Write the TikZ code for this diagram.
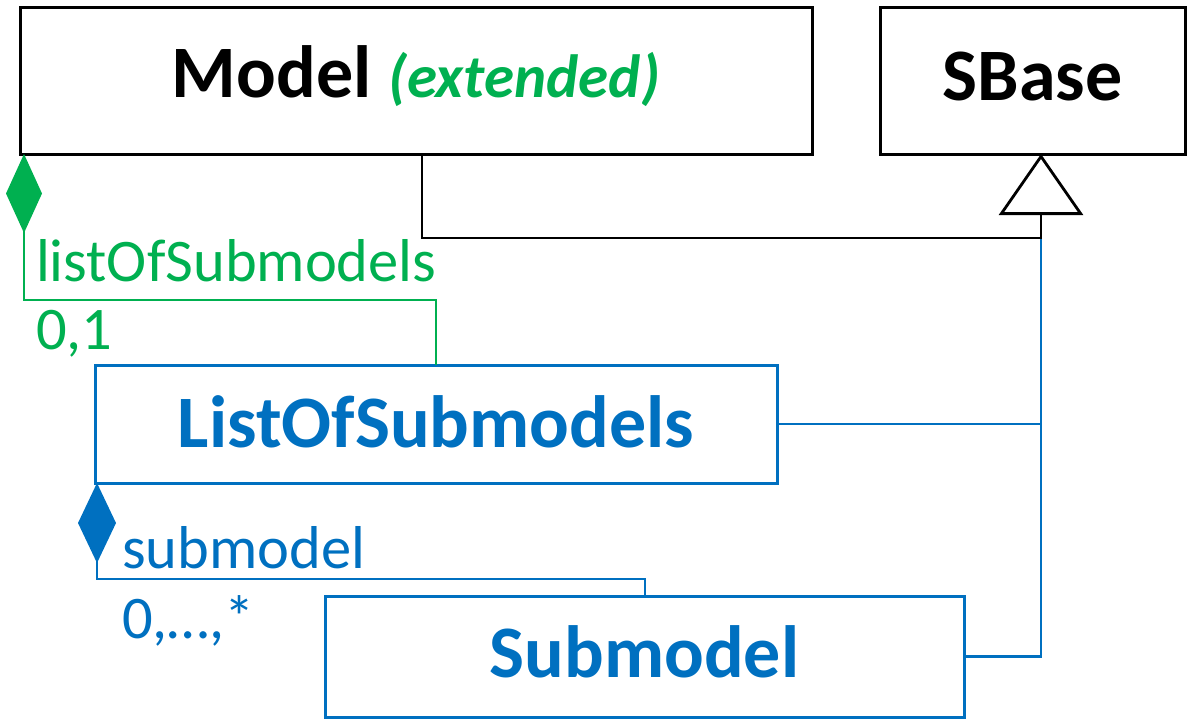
\documentclass[tikz,border=0pt]{standalone}
\usepackage{fontspec}
\setmainfont{Carlito}
\usetikzlibrary{arrows.meta}
\definecolor{sbgreen}{HTML}{00B050}
\definecolor{sbblue}{HTML}{0070C0}
\newcommand{\boxfont}{\fontsize{74}{80}\selectfont\bfseries}
\newcommand{\extfont}{\fontsize{61}{66}\selectfont\bfseries\itshape}
\begin{document}
\begin{tikzpicture}[x=1pt,y=-1pt,
  box/.style={draw, rectangle, line width=3pt, outer sep=0pt, inner sep=0pt, text depth=0pt, font=\boxfont},
  conn/.style={line width=2.8pt},
  lbl/.style={inner sep=0pt, outer sep=0pt, font=\fontsize{60.5}{64}\selectfont}]
\useasboundingbox (0,0) rectangle (1191,721);
% boxes
\node[box, black, minimum width=792pt, minimum height=147pt, text height=33pt] (model) at (416,80.5)
  {Model {\extfont\color{sbgreen}(extended)}};
\node[box, black, minimum width=305pt, minimum height=147pt, text height=39pt] (sbase) at (1032.5,80.5) {SBase};
\node[box, sbblue, minimum width=682pt, minimum height=118pt, text height=46pt] (los) at (436,424) {ListOfSubmodels};
\node[box, sbblue, minimum width=639pt, minimum height=121pt, text height=41pt] (sub) at (644.5,656.5) {Submodel};
% coordinates
\coordinate (tri) at ([xshift=8.5pt]sbase.south);
\coordinate (junc) at (1041,238);
\coordinate (g1) at (436,300);
\coordinate (b1) at (645,579);
% generalisation connectors
\draw[conn, sbblue] (los.east) -| (junc);
\draw[conn, sbblue] (sub.east) -| (junc);
\draw[conn, black, -{Triangle[open, length=61pt, width=84pt]}] ([xshift=6pt]model.south) |- (junc) -- (tri);
% composition connectors
\draw[conn, sbgreen, {Diamond[length=79pt, width=36pt]}-] ([xshift=4pt]model.south west) |- (g1) -- (g1 |- los.north);
\draw[conn, sbblue, {Diamond[length=80pt, width=38pt]}-] ([xshift=2pt]los.south west) |- (b1) -- (b1 |- sub.north);
% labels
\node[lbl, sbgreen, anchor=base west] (lblos) at (36,281) {listOfSubmodels};
\node[lbl, sbgreen, anchor=base west] (m1) at (36,349) {0,1};
\node[lbl, sbblue, anchor=base west] (lsub) at (122,568) {submodel};
\node[lbl, sbblue, anchor=base west] (m2) at (122,638) {0,…,*};
\end{tikzpicture}
\end{document}
